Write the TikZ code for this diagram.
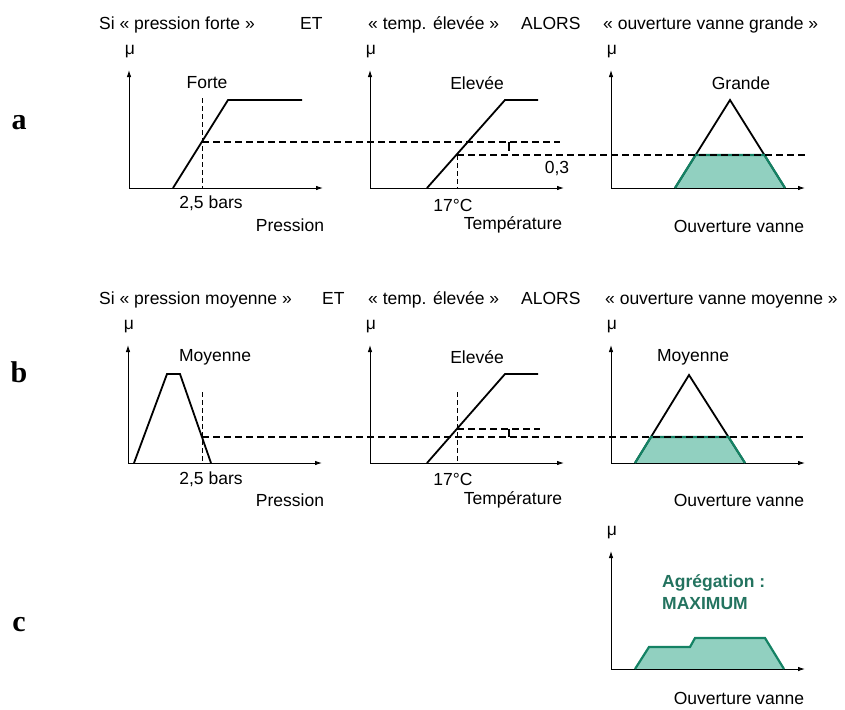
\documentclass[tikz,border=0pt]{standalone}
\usepackage{fontspec}
\setmainfont{Liberation Sans}
\newfontfamily\rowfont{Liberation Serif}
\usetikzlibrary{arrows.meta}
\definecolor{vert}{RGB}{20,130,100}
\definecolor{vertclair}{RGB}{145,208,192}
\definecolor{vertfonce}{RGB}{35,115,95}

\begin{document}
\begin{tikzpicture}[x=1pt, y=-1pt,
        every node/.style={inner sep=0pt, font=\fontsize{17.5}{20}\selectfont},
        axe/.style={line width=0.9pt, -{Latex[length=7pt,width=4.5pt]}},
        courbe/.style={line width=1.8pt},
        seuil/.style={line width=2.3pt, dash pattern=on 7pt off 4pt},
        repere/.style={line width=1pt, dash pattern=on 5pt off 3pt},
        bord/.style={draw=vert, line width=2.2pt},
        titre/.style={anchor=base west},
        ligne/.style={font=\rowfont\bfseries\fontsize{30}{30}\selectfont}]
        \useasboundingbox (0,0) rectangle (845,709);

        % zones remplies
        \fill[vertclair] (675,188) -- (695.6,155) -- (764.4,155) -- (785,188) -- cycle;
        \fill[vertclair] (635,463) -- (651,437) -- (728.5,437) -- (745,463) -- cycle;
        \fill[vertclair] (635,669) -- (649,647) -- (690,647) -- (695,638) -- (765,638) -- (784,669) -- cycle;

        % axes
        \foreach \x/\y/\n in {129/188/a1, 370/188/a2, 611/188/a3, 128/463/b1, 370/463/b2, 611/463/b3, 611/669/c} {
            \coordinate (o\n) at (\x,\y);
            \draw[axe] (o\n) -- ++(0,-118);
            \draw[axe] (o\n) -- ++(194,0);
            \node (mu\n) at (\x+1,\y-136) {μ};
        }

        \node[ligne] (ra) at (19,123) {a};
        \node[ligne] (rb) at (19,372) {b};
        \node[ligne] (rc) at (19,625) {c};

        % ligne a
        \node[titre] (sia) at (99,30) {Si « pression forte »};
        \node[titre] (eta) at (300,30) {ET};
        \node[titre] (tea) at (368,30) {« temp. élevée »};
        \node[titre] (ala) at (521,30) {ALORS};
        \node[titre] (ova) at (603,30) {« ouverture vanne grande »};

        \coordinate (pa) at (202,142);
        \coordinate (ta) at (457,155);
        \coordinate (pfa) at (560,142);
        \coordinate (tfa) at (808,155);
        \draw[repere] (202,98) -- (202,188);
        \draw[repere] (ta) -- (457,188);
        \draw[courbe] (173,188) -- (228,100) -- (302,100);
        \draw[courbe] (427,188) -- (505,100) -- (538,100);
        \draw[courbe] (675,188) -- (730,100) -- (785,188);
        \draw[bord] (675,188) -- (695.6,155) -- (764.4,155) -- (785,188);
        \draw[seuil] (pa) -- (pfa);
        \draw[seuil] (ta) -- (tfa);
        \draw[line width=1.2pt] (509,142) -- (509,151);

        \node (fa) at (207,83) {Forte};
        \node (ea) at (477,83) {Elevée};
        \node (ga) at (741,83) {Grande};
        \node (ba) at (211,203) {2,5 bars};
        \node (da) at (453,205) {17°C};
        \node (va) at (557,169) {0,3};
        \node (xpa) at (290,225) {Pression};
        \node (xta) at (513,225) {Température};
        \node (xoa) at (739,226) {Ouverture vanne};

        % ligne b
        \node[titre] (sib) at (99,304) {Si « pression moyenne »};
        \node[titre] (etb) at (322,304) {ET};
        \node[titre] (teb) at (368,304) {« temp. élevée »};
        \node[titre] (alb) at (521,304) {ALORS};
        \node[titre] (ovb) at (605,304) {« ouverture vanne moyenne »};

        \coordinate (pb) at (202,437);
        \coordinate (tb) at (457,429);
        \coordinate (pfb) at (805,437);
        \coordinate (tfb) at (540,429);
        \draw[repere] (202,392) -- (202,463);
        \draw[repere] (457,392) -- (457,463);
        \draw[courbe] (134,463) -- (167,374) -- (180,374) -- (211,463);
        \draw[courbe] (427,463) -- (505,374) -- (538,374);
        \draw[courbe] (635,463) -- (689,375) -- (745,463);
        \draw[bord] (635,463) -- (651,437) -- (728.5,437) -- (745,463);
        \draw[seuil] (pb) -- (pfb);
        \draw[seuil] (tb) -- (tfb);
        \draw[line width=1.2pt] (509,429) -- (509,437);

        \node (mb) at (215,357) {Moyenne};
        \node (eb) at (477,357) {Elevée};
        \node (gb) at (693,357) {Moyenne};
        \node (bb) at (211,479) {2,5 bars};
        \node (db) at (453,479) {17°C};
        \node (xpb) at (290,500) {Pression};
        \node (xtb) at (513,500) {Température};
        \node (xob) at (739,500) {Ouverture vanne};

        % ligne c
        \draw[bord] (635,669) -- (649,647) -- (690,647) -- (695,638) -- (765,638) -- (784,669);
        \node[anchor=west, text=vertfonce, font=\fontsize{17.5}{20}\selectfont\bfseries] (agc) at (662,583) {Agrégation :};
        \node[anchor=west, text=vertfonce, font=\fontsize{17.5}{20}\selectfont\bfseries] (mxc) at (662,604) {MAXIMUM};
        \node (xoc) at (739,698) {Ouverture vanne};
    \end{tikzpicture}
\end{document}
